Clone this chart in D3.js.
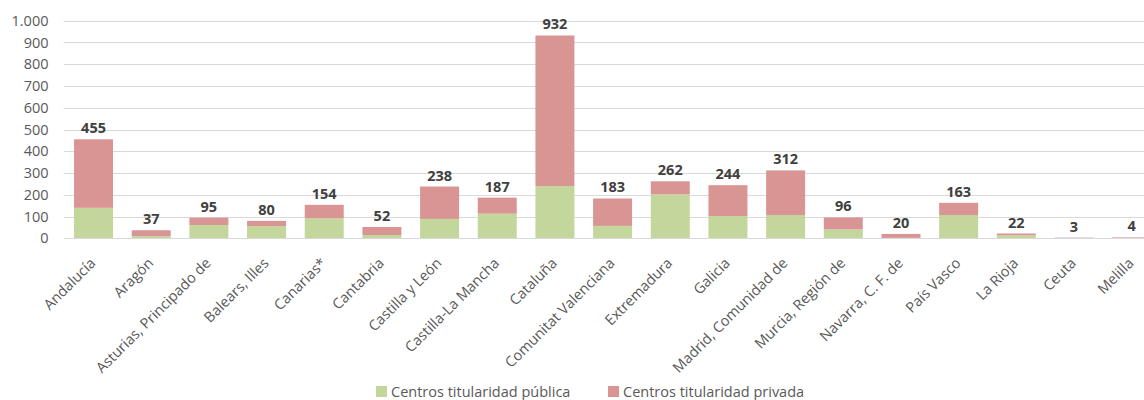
<!DOCTYPE html>
<html><head><meta charset="utf-8">
<script src="https://cdn.jsdelivr.net/npm/d3@7"></script>
<style>
html,body{margin:0;padding:0;background:#fff;}
svg{display:block;font-family:"Open Sans",sans-serif;}
</style></head>
<body>
<svg id="chart" width="1144" height="400"></svg>
<script>
const categories = ["Andalucía","Aragón","Asturias, Principado de","Balears, Illes","Canarias*","Cantabria","Castilla y León","Castilla-La Mancha","Cataluña","Comunitat Valenciana","Extremadura","Galicia","Madrid, Comunidad de","Murcia, Región de","Navarra, C. F. de","País Vasco","La Rioja","Ceuta","Melilla"];
const publicos = [140,10,61,56,92,15,89,113,240,57,202,102,107,41,2,107,14,1,1];
const privados = [315,27,34,24,62,37,149,74,692,126,60,142,205,55,18,56,8,2,3];
const totales = [455,37,95,80,154,52,238,187,932,183,262,244,312,96,20,163,22,3,4];
const seriesNames = ["Centros titularidad pública","Centros titularidad privada"];
const seriesColors = ["#C3D69B","#D99594"];
const yTicks = [0,100,200,300,400,500,600,700,800,900,1000];

const svg = d3.select("#chart");
const W = 1144;
const plotLeft = 64.7, plotRight = 1160.5, plotTop = 20.7, plotBottom = 238.3;

const locale = d3.formatLocale({decimal:",",thousands:".",grouping:[3],currency:["","€"]});
const fmt = locale.format(",d");

const x = d3.scaleBand().domain(categories).range([plotLeft, plotRight]).paddingInner(0.324).paddingOuter(0.162);
const y = d3.scaleLinear().domain([0,1000]).range([plotBottom, plotTop]);

// gridlines
svg.append("g").selectAll("line").data(yTicks).join("line")
  .attr("x1", 64).attr("x2", W)
  .attr("y1", d => Math.round(y(d))+0.5).attr("y2", d => Math.round(y(d))+0.5)
  .attr("stroke", "#D9D9D9").attr("stroke-width", 1);

// y axis labels
const yAxis = d3.axisLeft(y).tickValues(yTicks).tickFormat(fmt).tickSize(0).tickPadding(0);
const ya = svg.append("g").attr("transform", "translate(48.5,0)").call(yAxis);
ya.select(".domain").remove();
ya.selectAll("text").attr("font-size", "14.5px").attr("fill", "#595959").attr("font-family", "Open Sans");

// stacked data
const rows = categories.map((c,i) => ({cat:c, pub:publicos[i], priv:privados[i], total:totales[i]}));
const stack = d3.stack().keys(["pub","priv"]);
const stacked = stack(rows);

svg.append("g").selectAll("g").data(stacked).join("g")
  .attr("fill", (d,i) => seriesColors[i])
  .selectAll("rect").data(d => d).join("rect")
  .attr("x", d => x(d.data.cat))
  .attr("width", x.bandwidth())
  .attr("y", d => y(d[1]))
  .attr("height", d => Math.max(0, y(d[0]) - y(d[1])));

// baseline
svg.append("line").attr("x1", 64).attr("x2", W)
  .attr("y1", Math.round(y(0))+0.5).attr("y2", Math.round(y(0))+0.5)
  .attr("stroke", "#D9D9D9").attr("stroke-width", 1);

// total labels
svg.append("g").selectAll("text").data(rows).join("text")
  .attr("x", d => x(d.cat) + x.bandwidth()/2)
  .attr("y", d => y(d.total) - 6)
  .attr("text-anchor", "middle")
  .attr("font-size", "14.5px").attr("font-weight", "bold").attr("fill", "#404040")
  .text(d => fmt(d.total));

// category labels
svg.append("g").selectAll("text").data(categories).join("text")
  .attr("transform", d => `translate(${x(d) + x.bandwidth()/2 + 3},264) rotate(-45)`)
  .attr("text-anchor", "end")
  .attr("font-size", "14.5px").attr("fill", "#595959")
  .text(d => d);

// legend
const legendX = [376, 608];
const lg = svg.append("g").selectAll("g").data(seriesNames).join("g")
  .attr("transform", (d,i) => `translate(${legendX[i]},386)`);
lg.append("rect").attr("width", 11).attr("height", 11).attr("fill", (d,i) => seriesColors[i]);
lg.append("text").attr("x", 15).attr("y", 10.5)
  .attr("font-size", "14.5px").attr("fill", "#595959").text(d => d);
</script>
</body></html>
